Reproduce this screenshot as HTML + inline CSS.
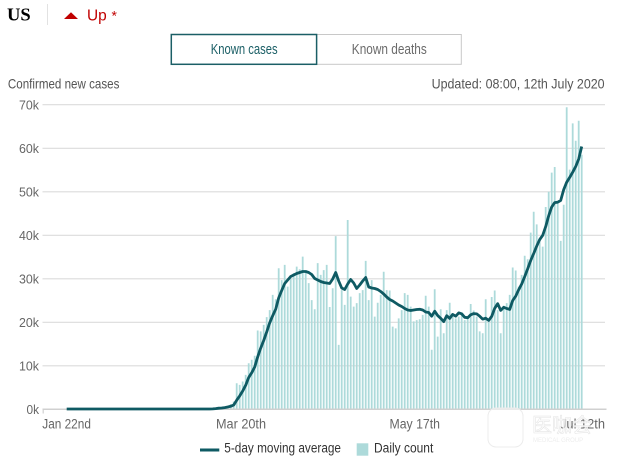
<!DOCTYPE html>
<html>
<head>
<meta charset="utf-8">
<style>
  html, body { margin: 0; padding: 0; background: #fff; }
  svg { display: block; }
</style>
</head>
<body>
<svg width="620" height="462" viewBox="0 0 620 462" xmlns="http://www.w3.org/2000/svg" font-family="'Liberation Sans', sans-serif">
  <rect width="620" height="462" fill="#fff"/>

  <!-- Header -->
  <text x="7" y="20.7" font-family="'Liberation Serif', serif" font-weight="bold" font-size="18" textLength="23.7" lengthAdjust="spacingAndGlyphs" fill="#000">US</text>
  <line x1="47.5" y1="4" x2="47.5" y2="25" stroke="#e2e2e2" stroke-width="1"/>
  <polygon points="64,19 71,12.3 78,19" fill="#c00000"/>
  <text x="87" y="20.7" font-size="16" fill="#c00000" textLength="19.7" lengthAdjust="spacingAndGlyphs">Up</text>
  <text x="111.5" y="20.5" font-size="14" fill="#c00000">*</text>

  <!-- Toggle buttons -->
  <rect x="316.6" y="34.5" width="144.7" height="29.8" fill="#fff" stroke="#c8c8c8" stroke-width="1"/>
  <rect x="171.3" y="34.5" width="145.3" height="29.8" fill="#fff" stroke="#1b5f66" stroke-width="1.5"/>
  <text x="210.7" y="54" font-size="14.5" fill="#1b5f66" textLength="67" lengthAdjust="spacingAndGlyphs">Known cases</text>
  <text x="351.8" y="54" font-size="14.5" fill="#6b6b6b" textLength="75" lengthAdjust="spacingAndGlyphs">Known deaths</text>

  <!-- Titles -->
  <text x="7.9" y="88.3" font-size="14" fill="#555" textLength="111.5" lengthAdjust="spacingAndGlyphs">Confirmed new cases</text>
  <text x="431.6" y="88.3" font-size="14" fill="#555" textLength="173" lengthAdjust="spacingAndGlyphs">Updated: 08:00, 12th July 2020</text>

  <!-- Gridlines -->
  <g stroke="#dcdcdc" stroke-width="1.2">
    <line x1="42.5" y1="104.7" x2="605" y2="104.7"/>
    <line x1="42.5" y1="148.3" x2="605" y2="148.3"/>
    <line x1="42.5" y1="191.8" x2="605" y2="191.8"/>
    <line x1="42.5" y1="235.3" x2="605" y2="235.3"/>
    <line x1="42.5" y1="278.8" x2="605" y2="278.8"/>
    <line x1="42.5" y1="322.3" x2="605" y2="322.3"/>
    <line x1="42.5" y1="365.8" x2="605" y2="365.8"/>
  </g>

  <!-- Y labels -->
  <g font-size="13" fill="#666" text-anchor="end">
    <text x="39" y="109.3" textLength="20" lengthAdjust="spacingAndGlyphs">70k</text>
    <text x="39" y="152.9" textLength="20" lengthAdjust="spacingAndGlyphs">60k</text>
    <text x="39" y="196.4" textLength="20" lengthAdjust="spacingAndGlyphs">50k</text>
    <text x="39" y="239.9" textLength="20" lengthAdjust="spacingAndGlyphs">40k</text>
    <text x="39" y="283.4" textLength="20" lengthAdjust="spacingAndGlyphs">30k</text>
    <text x="39" y="326.9" textLength="20" lengthAdjust="spacingAndGlyphs">20k</text>
    <text x="39" y="370.4" textLength="20" lengthAdjust="spacingAndGlyphs">10k</text>
    <text x="39" y="413.9" textLength="12.5" lengthAdjust="spacingAndGlyphs">0k</text>
  </g>

  <!-- Bars -->
  <path fill="none" stroke="#addada" stroke-width="1.8" d="
M212.7 409.3V408.4 M215.7 409.3V408.0 M218.7 409.3V407.6 M221.7 409.3V407.1 M224.7 409.3V406.7
M227.7 409.3V405.8 M230.7 409.3V404.1 M233.7 409.3V401.5 M236.7 409.3V383.2 M239.7 409.3V384.9
M242.7 409.3V381.5 M245.7 409.3V374.9 M248.7 409.3V363.2 M251.7 409.3V359.7 M254.7 409.3V355.8
M257.7 409.3V330.5 M260.7 409.3V331.4 M263.7 409.3V324.9 M266.7 409.3V317.1 M269.7 409.3V310.1
M272.7 409.3V294.9 M275.7 409.3V299.2 M278.7 409.3V268.3 M281.7 409.3V280.1 M284.7 409.3V264.9
M287.7 409.3V286.6 M290.7 409.3V278.3 M293.7 409.3V273.1 M296.7 409.3V266.6 M299.7 409.3V269.2
M302.7 409.3V256.6 M305.7 409.3V271.8 M308.7 409.3V283.1 M311.7 409.3V300.1 M314.7 409.3V309.2
M317.7 409.3V263.1 M320.7 409.3V274.9 M323.7 409.3V270.1 M326.7 409.3V264.9 M329.7 409.3V307.0
M332.7 409.3V288.3 M335.7 409.3V236.1 M338.7 409.3V344.9 M341.7 409.3V290.1 M344.7 409.3V304.9
M347.7 409.3V220.0 M350.7 409.3V296.6 M353.7 409.3V306.6 M356.7 409.3V303.1 M359.7 409.3V293.1
M362.7 409.3V290.1 M365.7 409.3V260.9 M368.7 409.3V300.1 M371.7 409.3V280.1 M374.7 409.3V316.6
M377.7 409.3V302.7 M380.7 409.3V294.9 M383.7 409.3V271.8 M386.7 409.3V290.1 M389.7 409.3V290.5
M392.7 409.3V326.6 M395.7 409.3V328.4 M398.7 409.3V318.4 M401.7 409.3V310.1 M404.7 409.3V293.1
M407.7 409.3V294.9 M410.7 409.3V306.6 M413.7 409.3V321.4 M416.7 409.3V320.1 M419.7 409.3V319.2
M422.7 409.3V314.9 M425.7 409.3V295.7 M428.7 409.3V306.6 M431.7 409.3V349.7 M434.7 409.3V289.2
M437.7 409.3V336.6 M440.7 409.3V309.2 M443.7 409.3V333.2 M446.7 409.3V310.1 M449.7 409.3V302.7
M452.7 409.3V316.6 M455.7 409.3V318.4 M458.7 409.3V316.6 M461.7 409.3V314.9 M464.7 409.3V320.1
M467.7 409.3V318.4 M470.7 409.3V304.0 M473.7 409.3V310.5 M476.7 409.3V316.6 M479.7 409.3V331.4
M482.7 409.3V333.2 M485.7 409.3V299.2 M488.7 409.3V321.4 M491.7 409.3V297.0 M494.7 409.3V290.5
M497.7 409.3V310.1 M500.7 409.3V333.2 M503.7 409.3V305.7 M506.7 409.3V303.1 M509.7 409.3V294.9
M512.7 409.3V267.5 M515.7 409.3V270.5 M518.7 409.3V286.6 M521.7 409.3V274.9 M524.7 409.3V255.7
M527.7 409.3V259.2 M530.7 409.3V232.6 M533.7 409.3V211.7 M536.7 409.3V224.4 M539.7 409.3V241.8
M542.7 409.3V246.6 M545.7 409.3V207.0 M548.7 409.3V191.8 M551.7 409.3V172.6 M554.7 409.3V167.0
M557.7 409.3V203.5 M560.7 409.3V240.9 M563.7 409.3V204.8 M566.7 409.3V107.3 M569.7 409.3V169.6
M572.7 409.3V123.4 M575.7 409.3V140.8 M578.7 409.3V120.8 M581.7 409.3V154.8"/>

  <!-- Baseline axis -->
  <line x1="42.5" y1="409.3" x2="606.5" y2="409.3" stroke="#d0d0d0" stroke-width="1.5"/>
  <line x1="43.2" y1="409.3" x2="43.2" y2="413.5" stroke="#d0d0d0" stroke-width="1.2"/>

  <!-- 5-day moving average -->
  <polyline fill="none" stroke="#0e5a63" stroke-width="2.8" stroke-linejoin="round" stroke-linecap="butt" points="
66.7,409 209.7,409 212.7,408.9 215.7,408.6 218.7,408.2 221.7,408.0 224.7,407.6 227.7,407.0 230.7,406.3 233.7,405.0
236.7,400.2 239.7,395.9 242.7,391.0 245.7,385.2 248.7,377.5 251.7,372.8 254.7,367.0 257.7,356.8 260.7,348.1 263.7,340.5
266.7,331.9 269.7,322.8 272.7,315.7 275.7,309.2 278.7,297.9 281.7,290.5 284.7,283.5 287.7,280.0 290.7,276.5 293.7,275.0
296.7,273.5 299.7,272.5 302.7,271.5 305.7,271.5 308.7,272.5 311.7,274.5 314.7,278.5 317.7,280.0 320.7,281.5 323.7,282.5
326.7,283.0 329.7,283.5 332.7,279.0 335.7,272.5 338.7,281.0 341.7,288.0 344.7,289.5 347.7,284.0 350.7,279.5 353.7,283.0
356.7,288.5 359.7,285.0 362.7,281.0 365.7,277.5 368.7,287.0 371.7,288.0 374.7,288.5 377.7,289.5 380.7,291.5 383.7,294.0
386.7,297.0 389.7,299.5 392.7,301.0 395.7,303.0 398.7,305.0 401.7,306.5 404.7,308.5 407.7,310.0 410.7,310.5 413.7,310.0
416.7,309.5 419.7,309.3 422.7,310.0 425.7,312.0 428.7,312.5 431.7,316.2 434.7,311.2 437.7,315.6 440.7,318.3 443.7,321.6
446.7,315.7 449.7,318.4 452.7,314.4 455.7,316.2 458.7,312.9 461.7,313.8 464.7,317.3 467.7,317.7 470.7,314.8 473.7,313.6
476.7,313.9 479.7,316.2 482.7,319.1 485.7,318.2 488.7,320.4 491.7,316.4 494.7,308.3 497.7,303.7 500.7,310.4 503.7,307.3
506.7,308.5 509.7,309.4 512.7,300.5 515.7,296.2 518.7,289.7 521.7,284.0 524.7,276.6 527.7,268.8 530.7,260.5 533.7,253.5
536.7,246.1 539.7,239.6 542.7,235.3 545.7,226.6 548.7,215.7 551.7,207.0 554.7,202.6 557.7,202.2 560.7,200.4 563.7,189.6
566.7,182.2 569.7,177.4 572.7,172.2 575.7,166.5 578.7,159.1 581.7,146.5"/>

  <!-- X labels -->
  <g font-size="13.5" fill="#666">
    <text x="42.3" y="428.3" textLength="48.6" lengthAdjust="spacingAndGlyphs">Jan 22nd</text>
    <text x="216" y="428.3" textLength="50" lengthAdjust="spacingAndGlyphs">Mar 20th</text>
    <text x="389.5" y="428.3" textLength="50.5" lengthAdjust="spacingAndGlyphs">May 17th</text>
    <text x="560" y="428.3" textLength="45" lengthAdjust="spacingAndGlyphs">Jul 12th</text>
  </g>

  <!-- Legend -->
  <line x1="200" y1="450" x2="219.3" y2="450" stroke="#0e5a63" stroke-width="3"/>
  <text x="224.3" y="452.5" font-size="13.5" fill="#333" textLength="116.7" lengthAdjust="spacingAndGlyphs">5-day moving average</text>
  <rect x="356.7" y="443.3" width="11.6" height="12.4" fill="#addada"/>
  <text x="374" y="452.5" font-size="13.5" fill="#333" textLength="59.3" lengthAdjust="spacingAndGlyphs">Daily count</text>

  <!-- Faint watermark -->
  <rect x="488" y="408" width="35" height="39" rx="8" fill="#fff" fill-opacity="0.55" stroke="#ececec" stroke-width="1"/>
  <text x="532" y="432" font-size="20" font-family="'Liberation Sans', 'Noto Sans CJK SC', sans-serif" fill="#fff" fill-opacity="0.8" stroke="#e6e6e6" stroke-width="0.6">医咖会</text>
  <text x="533" y="442" font-size="6" fill="#ededed">MEDICAL GROUP</text>
</svg>
</body>
</html>
